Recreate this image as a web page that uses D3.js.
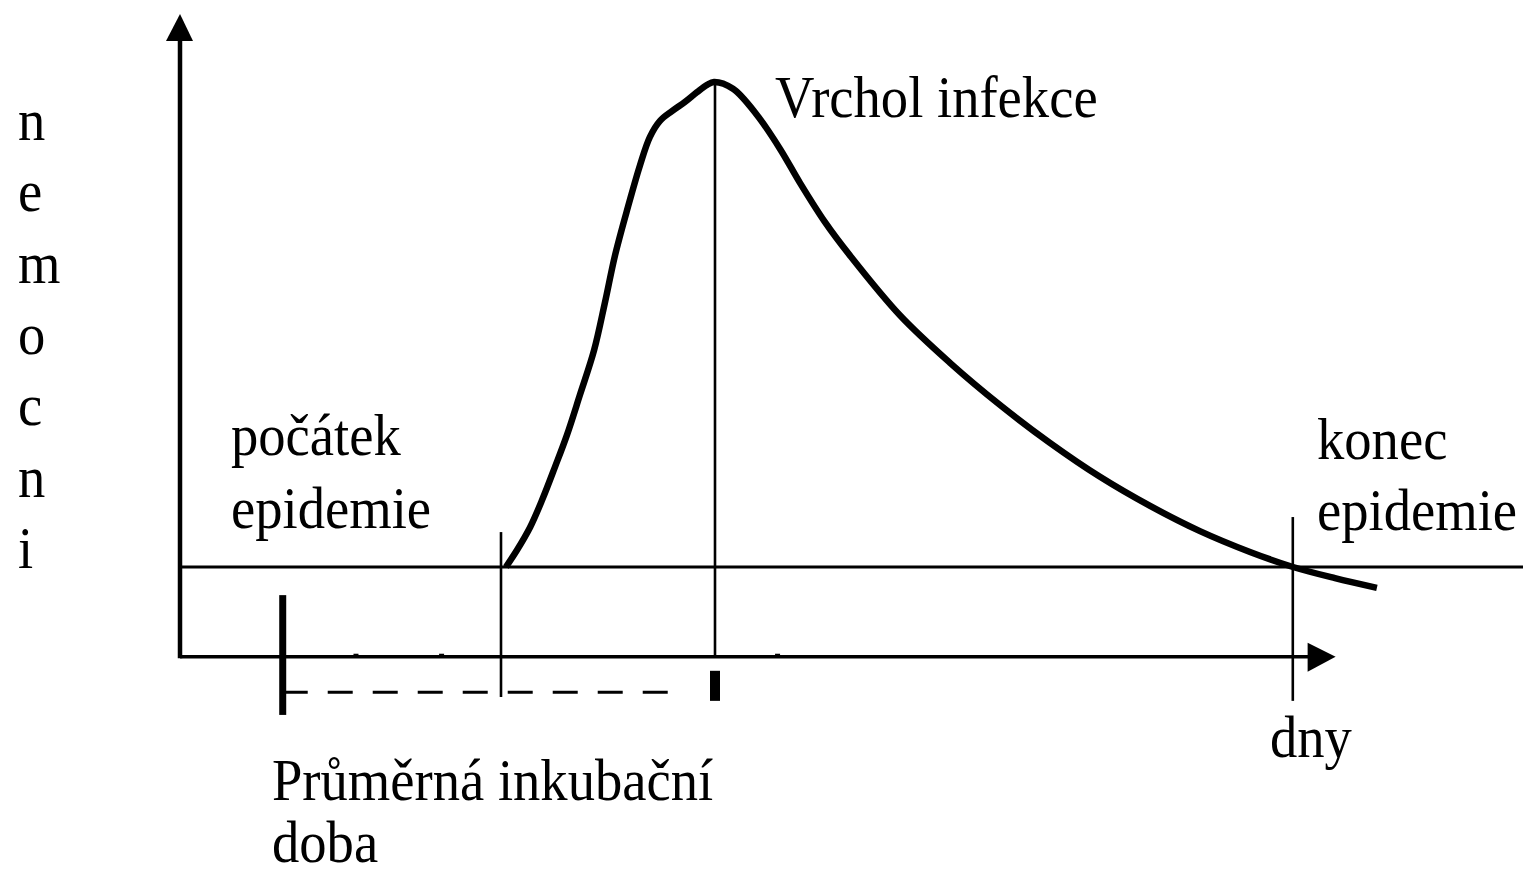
<!DOCTYPE html>
<html lang="cs">
<head>
<meta charset="utf-8">
<title>Průběh epidemie</title>
<script src="https://cdn.jsdelivr.net/npm/d3@7/dist/d3.min.js"></script>
<style>
  html, body { margin: 0; padding: 0; background: #fff; }
  svg { display: block; }
  text { font-family: "Liberation Serif", "Times New Roman", serif; font-size: 60px; fill: #000; }
</style>
</head>
<body>
<svg id="chart" width="1523" height="877"></svg>
<script>
// Epidemic curve: days on the horizontal axis, number of sick people on the vertical one.
const curveDays   = [15.23, 15.75, 16.36, 16.92, 17.52, 18.08, 18.69, 19.35, 19.86, 20.33, 20.93, 21.50,
                     21.96, 22.43, 22.99, 23.60, 24.16, 24.63, 24.95,
                     25.84, 26.96, 28.04, 28.97, 30.14, 31.31, 33.64, 35.98, 38.32, 40.65, 42.99, 45.33,
                     47.66, 50.00, 52.01, 53.97, 55.93];
const curveValues = [0, 3.5, 8.2, 13.8, 20.6, 27.2, 35.5, 44.7, 54.6, 64.3, 74.2, 82.9,
                     88.7, 92.0, 94.0, 95.9, 97.9, 99.4, 100,
                     98.6, 93.2, 86.2, 79.2, 71.1, 64.2, 51.9, 42.1, 33.4, 25.6, 18.6, 12.6,
                     7.4, 3.1, 0, -2.3, -4.3];

// Milestones (days)
const incubationStart = 4.8;
const onsetDay = 15;
const peakDay = 25;
const endDay = 52;
const minorTickDays = [8.2, 12.2, 27.9];

// Vertical reach of the guide lines (value units)
const timeAxisLevel = -18.5;
const valueAxisTop = 114;
const onsetLine = [7.2, -26.8];
const endLine = [10.3, -27.6];
const incubationTick = [-5.8, -30.5];
const peakMark = [-21.4, -27.6];
const dashLevel = -25.8;
const dashEndDay = 23.1;

const yLetters = ["n", "e", "m", "o", "c", "n", "i"];

const svg = d3.select("#chart");
const x = d3.scaleLinear().domain([0, 54]).range([180, 1335.6]);
const y = d3.scaleLinear().domain([0, 100]).range([567, 82]);

const g = svg.append("g");

function vline(day, v0, v1, w) {
  g.append("line")
    .attr("x1", x(day)).attr("x2", x(day))
    .attr("y1", y(v0)).attr("y2", y(v1))
    .attr("stroke", "#000").attr("stroke-width", w);
}

// baseline (zero level of the curve)
g.append("line")
  .attr("x1", x(0)).attr("x2", 1523)
  .attr("y1", y(0)).attr("y2", y(0))
  .attr("stroke", "#000").attr("stroke-width", 3);

// time axis
const axisY = y(timeAxisLevel);
const tipX = x(54);
g.append("line")
  .attr("x1", x(0)).attr("x2", tipX - 10)
  .attr("y1", axisY).attr("y2", axisY)
  .attr("stroke", "#000").attr("stroke-width", 3.5);
g.append("path")
  .attr("d", `M${tipX},${axisY} L${tipX - 28},${axisY - 14} L${tipX - 28},${axisY + 15} Z`)
  .attr("fill", "#000");
g.selectAll("rect.minor").data(minorTickDays).join("rect")
  .attr("class", "minor")
  .attr("x", d => x(d) - 2).attr("y", axisY - 3)
  .attr("width", 5).attr("height", 3)
  .attr("fill", "#000");

// value axis
const x0 = x(0);
const topY = y(valueAxisTop);
g.append("line")
  .attr("x1", x0).attr("x2", x0)
  .attr("y1", axisY + 1.5).attr("y2", topY + 20)
  .attr("stroke", "#000").attr("stroke-width", 4.5);
g.append("path")
  .attr("d", `M${x0},${topY} L${x0 - 14},${topY + 27} L${x0 + 13},${topY + 27} Z`)
  .attr("fill", "#000");

// guide lines
vline(onsetDay, onsetLine[0], onsetLine[1], 2.6);
vline(peakDay, 100, timeAxisLevel, 2.6);
vline(endDay, endLine[0], endLine[1], 2.6);
vline(incubationStart, incubationTick[0], incubationTick[1], 7);
vline(peakDay, peakMark[0], peakMark[1], 10);

// mean incubation period (dashed)
g.append("line")
  .attr("x1", x(incubationStart)).attr("x2", x(dashEndDay))
  .attr("y1", y(dashLevel)).attr("y2", y(dashLevel))
  .attr("stroke", "#000").attr("stroke-width", 3)
  .attr("stroke-dasharray", "25,20");

// epidemic curve
const line = d3.line()
  .x((d, i) => x(curveDays[i]))
  .y((d, i) => y(curveValues[i]))
  .curve(d3.curveCatmullRom.alpha(0.5));
g.append("path")
  .attr("d", line(curveDays))
  .attr("fill", "none")
  .attr("stroke", "#000")
  .attr("stroke-width", 6.5)
  .attr("stroke-linecap", "butt")
  .attr("stroke-linejoin", "round");

// labels (horizontally condensed serif)
const sx = 0.91;
function label(str, px, py) {
  g.append("text")
    .attr("transform", `translate(${px},${py}) scale(${sx},1)`)
    .text(str);
}
label("Vrchol infekce", 775, 117);
label("počátek", 231, 455);
label("epidemie", 231, 528);
label("konec", 1317, 459);
label("epidemie", 1317, 530);
label("dny", 1270, 757);
label("Průměrná inkubační", 272, 800);
label("doba", 272, 862);

yLetters.forEach((ch, i) => label(ch, 18, 140 + i * 71.3));
</script>
</body>
</html>
